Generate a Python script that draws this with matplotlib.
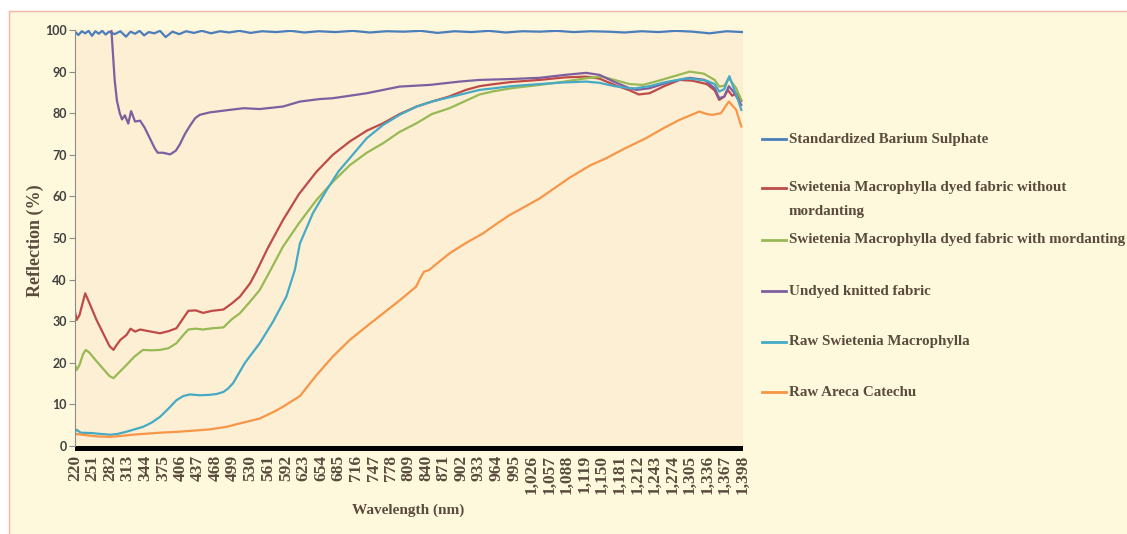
import numpy as np
import matplotlib
matplotlib.use("Agg")
import matplotlib.pyplot as plt
from matplotlib.patches import Rectangle
from matplotlib.lines import Line2D

# ---- data (wavelength nm, reflection %) ----
blue_wl = [220, 226, 232, 238, 244, 250, 256, 262, 268, 274, 280, 290, 300, 310, 318, 326, 334, 342,
           350, 360, 370, 380, 392, 404, 416, 430, 444, 460, 476, 492, 510, 530, 550, 575, 600,
           625, 650, 680, 710, 740, 770, 800, 830, 860, 890, 920, 950, 980, 1010, 1040, 1070,
           1100, 1130, 1160, 1190, 1220, 1250, 1280, 1310, 1340, 1370, 1398]
blue_r = [99.6, 98.8, 99.7, 99.2, 99.8, 98.6, 99.7, 99.1, 99.8, 98.9, 99.6, 99.0, 99.7, 98.4, 99.6,
          99.1, 99.8, 98.7, 99.5, 99.2, 99.8, 98.3, 99.6, 99.0, 99.7, 99.3, 99.8, 99.2, 99.7, 99.4,
          99.8, 99.3, 99.7, 99.5, 99.8, 99.4, 99.7, 99.5, 99.8, 99.4, 99.7, 99.6, 99.8, 99.3, 99.7,
          99.5, 99.8, 99.4, 99.7, 99.6, 99.8, 99.5, 99.7, 99.6, 99.4, 99.7, 99.5, 99.8, 99.6, 99.2,
          99.7, 99.5]

red_wl = [220, 223, 228, 238, 245, 258, 270, 281, 288, 292, 300, 311, 318, 326, 335, 350, 370, 385,
          399, 410, 420, 433, 446, 462, 482, 497, 511, 529, 540, 560, 587, 615, 646, 675, 705, 735,
          764, 793, 823, 850, 880, 910, 934, 960, 990, 1040, 1084, 1122, 1146, 1172, 1199, 1215,
          1234, 1260, 1287, 1310, 1335, 1349, 1357, 1366, 1372, 1380, 1387, 1396]
red_r = [32.3, 30.3, 31.5, 36.7, 34.5, 30.3, 27.0, 24.0, 23.1, 24.0, 25.5, 26.7, 28.2, 27.5, 28.0,
         27.6, 27.1, 27.6, 28.3, 30.5, 32.5, 32.6, 32.0, 32.5, 32.8, 34.3, 35.9, 39.1, 41.9, 47.5,
         54.3, 60.5, 65.9, 70.0, 73.2, 75.8, 77.6, 79.8, 81.6, 82.8, 84.0, 85.6, 86.5, 87.0, 87.5,
         88.0, 88.6, 88.8, 88.3, 86.8, 85.5, 84.5, 84.8, 86.5, 88.0, 87.8, 87.0, 85.5, 83.2, 84.0,
         85.6, 84.2, 84.8, 83.0]

green_wl = [220, 223, 228, 234, 239, 245, 256, 270, 281, 288, 295, 311, 325, 340, 355, 370, 385,
            399, 410, 420, 433, 446, 462, 482, 497, 511, 529, 546, 560, 587, 615, 646, 675, 705,
            735, 764, 793, 823, 850, 881, 910, 934, 960, 990, 1040, 1084, 1122, 1150, 1172, 1199,
            1222, 1250, 1280, 1305, 1330, 1349, 1357, 1366, 1374, 1387, 1396]
green_r = [19.5, 18.3, 19.5, 22.0, 23.1, 22.5, 20.7, 18.5, 16.8, 16.3, 17.3, 19.5, 21.5, 23.1, 23.0,
           23.1, 23.5, 24.7, 26.5, 28.0, 28.2, 28.0, 28.3, 28.5, 30.5, 31.9, 34.7, 37.5, 41.0, 47.9,
           53.5, 59.1, 63.5, 67.5, 70.5, 72.8, 75.5, 77.6, 79.8, 81.2, 83.0, 84.5, 85.3, 86.0, 86.8,
           87.6, 88.4, 88.8, 88.0, 87.0, 86.8, 87.8, 89.0, 90.0, 89.5, 88.0, 86.4, 86.6, 88.4, 86.0,
           83.2]

purple_wl = [220, 270, 284, 290, 294, 299, 303, 308, 314, 319, 326, 335, 343, 352, 361, 366, 375,
             388, 398, 405, 414, 423, 432, 440, 458, 470, 493, 518, 546, 587, 617, 652, 675, 735,
             793, 846, 899, 934, 987, 1040, 1084, 1122, 1146, 1172, 1199, 1211, 1234, 1269, 1305,
             1331, 1349, 1357, 1366, 1374, 1383, 1396]
purple_r = [125.0, 106.0, 100.5, 88.0, 83.0, 80.0, 78.5, 79.5, 77.5, 80.5, 78.0, 78.2, 76.5, 74.0,
            71.5, 70.5, 70.5, 70.1, 71.0, 72.5, 75.0, 77.0, 78.8, 79.6, 80.2, 80.4, 80.8, 81.2, 81.0,
            81.6, 82.8, 83.4, 83.6, 84.8, 86.4, 86.8, 87.6, 88.0, 88.2, 88.5, 89.2, 89.7, 89.2, 87.5,
            86.0, 85.6, 86.0, 87.5, 88.5, 88.0, 86.0, 83.6, 84.0, 86.5, 85.0, 82.0]

teal_wl = [220, 223, 230, 250, 265, 282, 295, 310, 325, 340, 355, 370, 385, 399, 411, 423, 440, 458,
           470, 482, 490, 499, 520, 546, 570, 593, 608, 617, 640, 664, 685, 705, 735, 764, 793, 823,
           850, 880, 910, 934, 960, 990, 1040, 1084, 1122, 1146, 1172, 1199, 1210, 1234, 1260,
           1300, 1335, 1349, 1357, 1366, 1372, 1375, 1380, 1387, 1396]
teal_r = [3.4, 3.9, 3.2, 3.1, 2.9, 2.7, 2.9, 3.4, 4.0, 4.6, 5.6, 7.0, 9.0, 11.0, 12.0, 12.4, 12.2,
          12.3, 12.5, 13.0, 13.8, 15.1, 20.0, 24.7, 30.0, 35.9, 42.3, 48.7, 56.0, 61.5, 66.0, 69.2,
          74.0, 77.2, 79.6, 81.6, 82.8, 83.8, 84.8, 85.6, 86.0, 86.5, 87.0, 87.4, 87.6, 87.3, 86.5,
          86.0, 86.0, 86.5, 87.4, 88.4, 87.8, 87.0, 85.2, 85.8, 88.0, 88.9, 87.0, 84.5, 80.8]

orange_wl = [220, 240, 260, 282, 300, 320, 340, 370, 399, 430, 458, 487, 516, 546, 575, 590, 617,
             646, 675, 705, 735, 764, 793, 822, 830, 836, 845, 860, 881, 910, 940, 965, 987, 1040,
             1093, 1130, 1158, 1190, 1228, 1260, 1287, 1322, 1335, 1345, 1360, 1374, 1387, 1396]
orange_r = [2.9, 2.6, 2.3, 2.2, 2.4, 2.7, 2.9, 3.2, 3.4, 3.7, 4.0, 4.6, 5.6, 6.6, 8.5, 9.7, 12.0,
            17.0, 21.5, 25.5, 28.8, 31.9, 35.0, 38.3, 40.5, 41.9, 42.3, 44.0, 46.3, 48.8, 51.1, 53.5,
            55.5, 59.5, 64.5, 67.5, 69.2, 71.5, 74.0, 76.5, 78.4, 80.4, 79.8, 79.6, 80.0, 82.8, 80.8,
            76.8]

labels = ["Standardized Barium Sulphate",
          "Swietenia Macrophylla dyed fabric without\nmordanting",
          "Swietenia Macrophylla dyed fabric with mordanting",
          "Undyed knitted fabric",
          "Raw Swietenia Macrophylla",
          "Raw Areca Catechu"]
colors = ["#4A7EBB", "#BE4B48", "#98B954", "#7D5FA0", "#46AAC5", "#F79646"]
series = [(blue_wl, blue_r), (red_wl, red_r), (green_wl, green_r),
          (purple_wl, purple_r), (teal_wl, teal_r), (orange_wl, orange_r)]

xticks = list(range(220, 1399, 31))

W, H = 1127, 534
text_col = "#5A4B3D"
serif = "Liberation Serif"

fig = plt.figure(figsize=(W / 100, H / 100), dpi=100)
fig.patch.set_facecolor("white")

# outer chart panel (kept behind the axes)
fig.patches.append(Rectangle((9 / W, -0.05), 1.2, 1.05 - 11 / H, transform=fig.transFigure,
                             facecolor="#FEF9DC", edgecolor="#F2B4A6", linewidth=1, zorder=-10))

ax = fig.add_axes([75 / W, 88 / H, 668 / W, 416 / H])
ax.set_zorder(1)
ax.set_facecolor("#FCEFD4")

for (wl, r), c in zip(series, colors):
    ax.plot(wl, r, color=c, linewidth=1.6, solid_joinstyle="round")

ax.set_xlim(220, 1399)
ax.set_ylim(0, 100)
ax.set_yticks(range(0, 101, 10))
ax.set_xticks(xticks)
ax.set_xticklabels([f"{v:,}" for v in xticks], rotation=90, fontsize=12.5,
                   fontfamily=serif, fontweight="bold", color=text_col)
for t in ax.get_yticklabels():
    t.set_fontfamily("Lato")
    t.set_fontweight("bold")
    t.set_fontsize(9)
    t.set_color("#404040")
ax.tick_params(axis="x", length=0, pad=6.5)
ax.tick_params(axis="y", length=4, width=0.8, color="#8C8C8C", pad=2)

for s in ["top", "right", "bottom"]:
    ax.spines[s].set_visible(False)
ax.spines["left"].set_color("#8C8C8C")
ax.spines["left"].set_linewidth(0.8)

# thick black category-axis bar
ax.add_patch(Rectangle((0, -5 / 416), 1, 5 / 416, transform=ax.transAxes,
                       facecolor="black", edgecolor="none", clip_on=False))

fig.text(408 / W, 1 - 510 / H, "Wavelength (nm)", ha="center", va="center",
         fontsize=11, fontfamily=serif, fontweight="bold", color=text_col)
fig.text(35 / W, 1 - 241 / H, "Reflection (%)", ha="center", va="center", rotation=90,
         fontsize=13, fontfamily=serif, fontweight="bold", color=text_col)

# legend drawn by hand to follow the reference spacing
leg_y = [139, 188, 240, 291, 342, 392]
for lab, c, y in zip(labels, colors, leg_y):
    fy = 1 - y / H
    fig.add_artist(Line2D([762 / W, 786 / W], [fy, fy], transform=fig.transFigure,
                          color=c, linewidth=2))
    lines = lab.split("\n")
    for k, ln in enumerate(lines):
        fig.text(789 / W, 1 - (y + 23 * k) / H, ln, ha="left", va="center",
                 fontsize=10.8, fontfamily=serif, fontweight="bold", color=text_col)

fig.savefig("out.png", dpi=100)
